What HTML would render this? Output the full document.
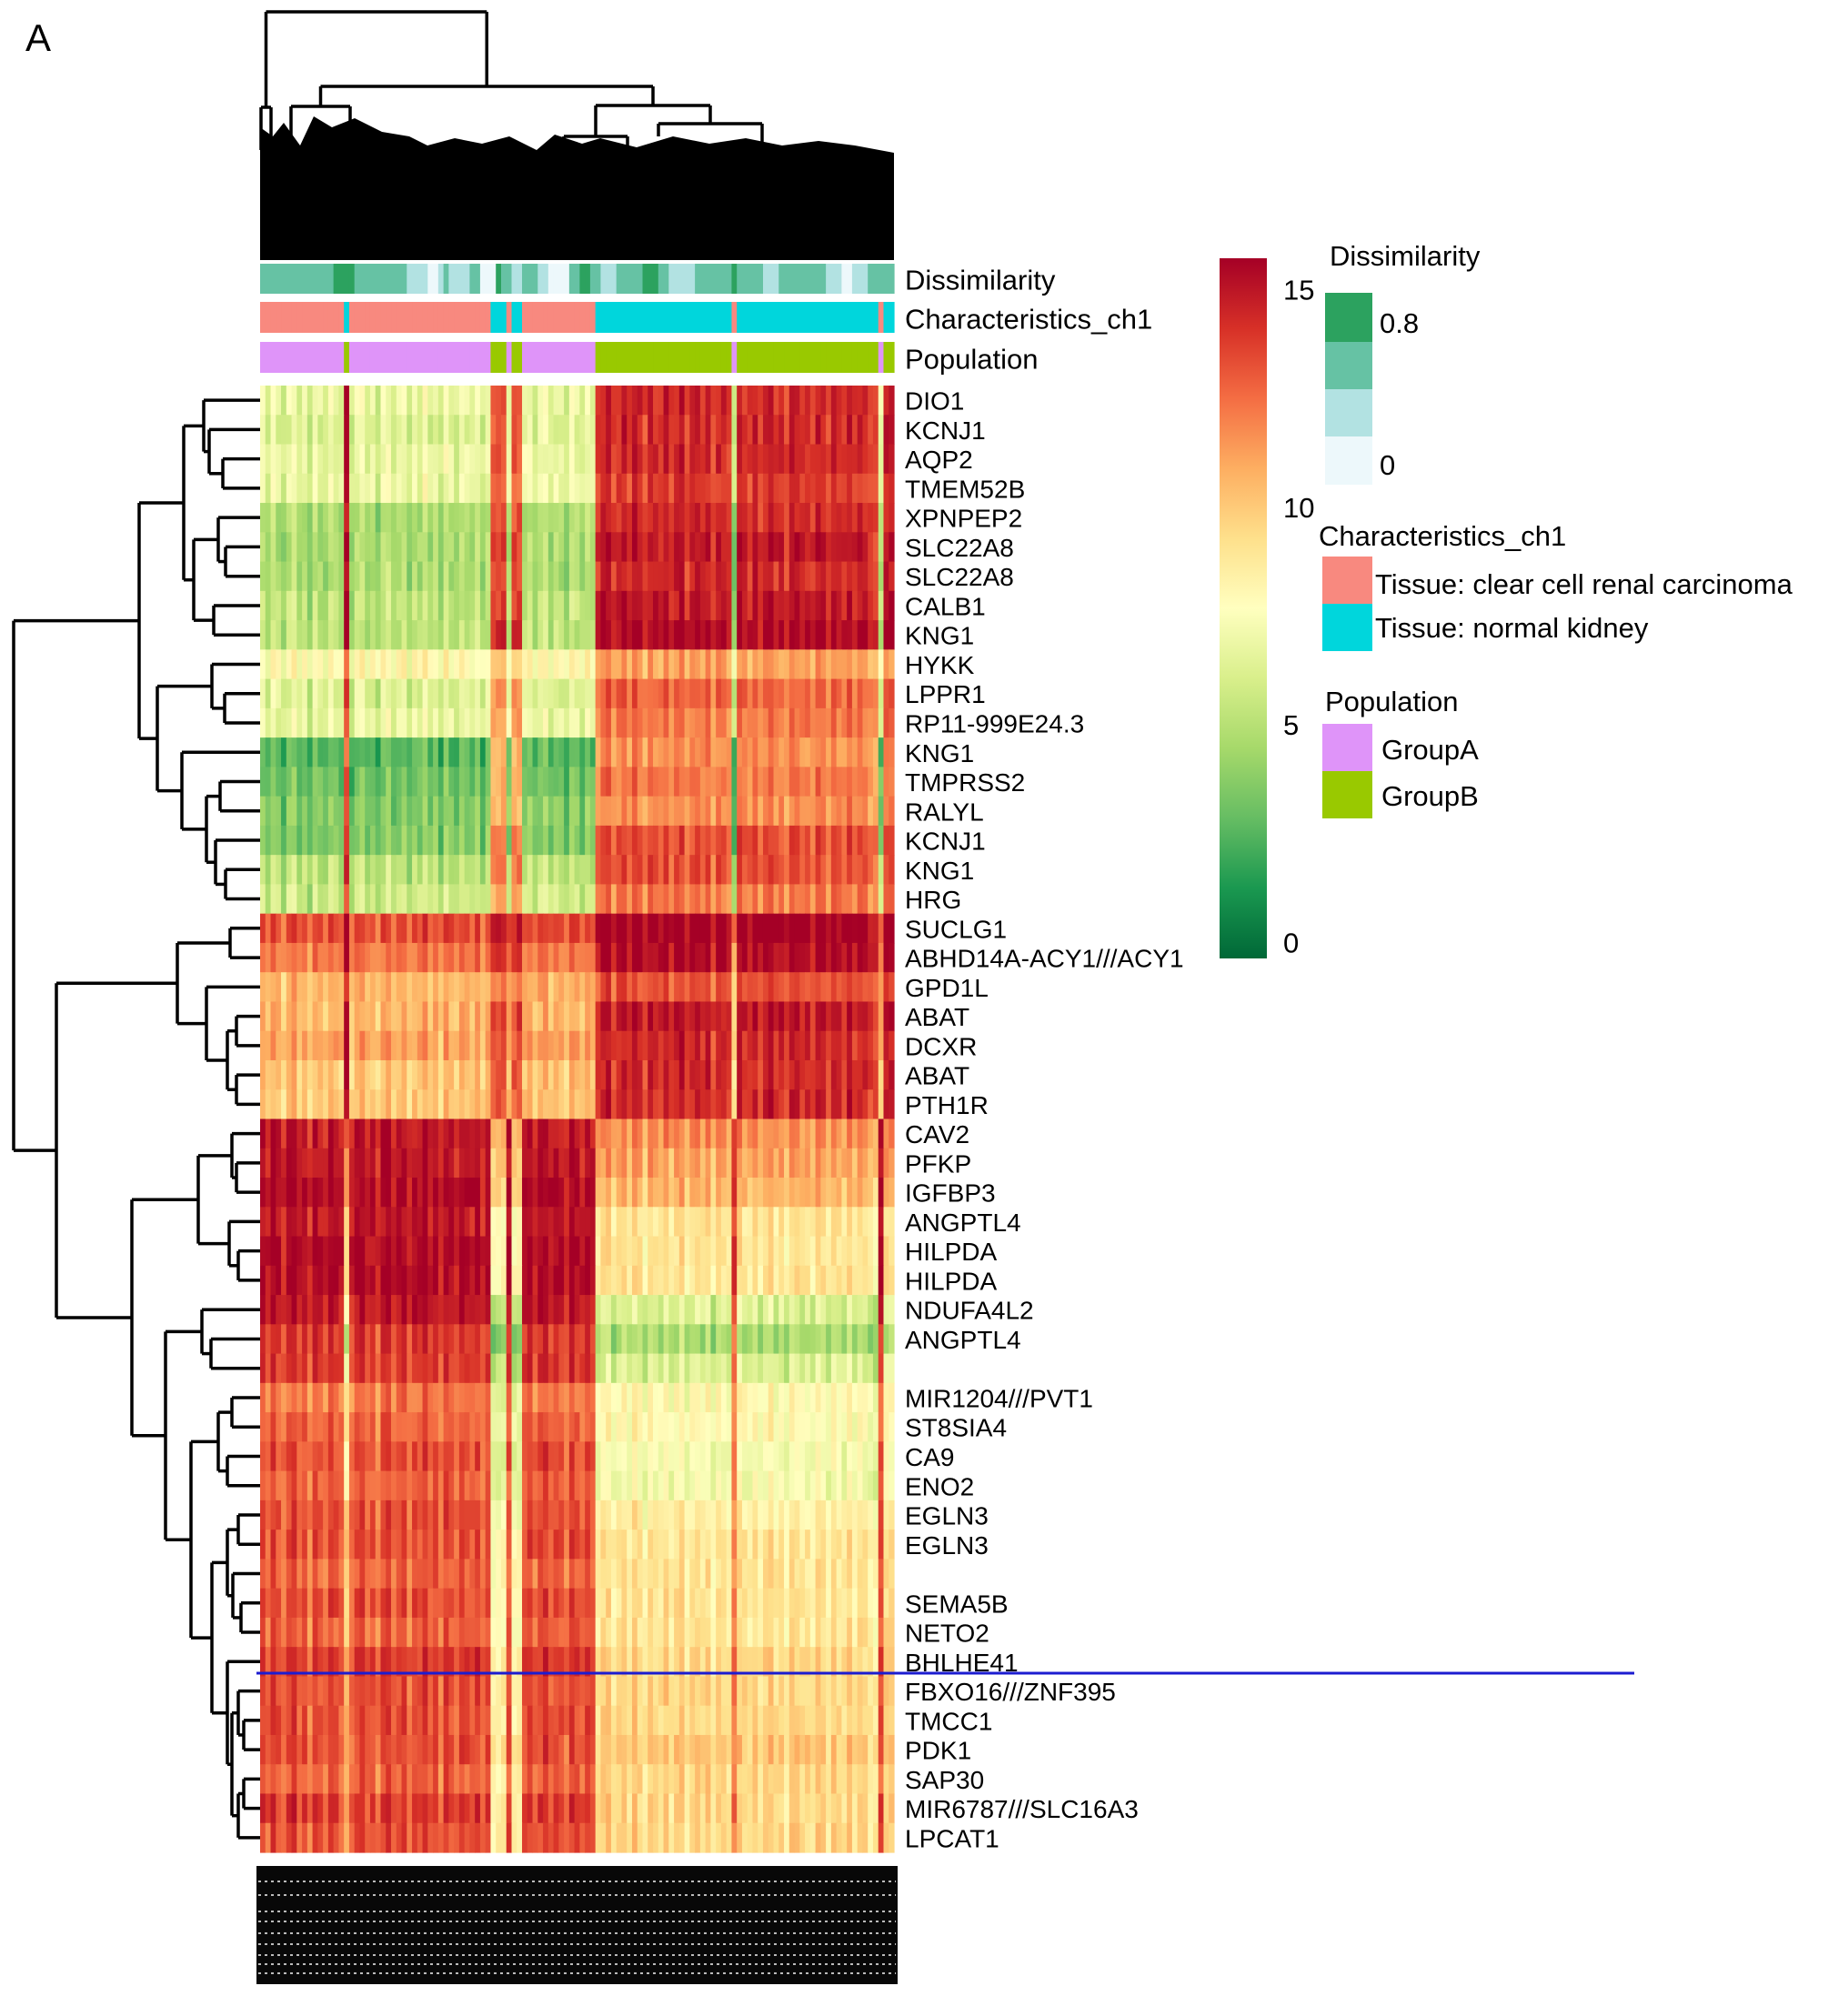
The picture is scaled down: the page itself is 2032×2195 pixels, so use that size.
<!DOCTYPE html>
<html><head><meta charset="utf-8"><style>
html,body{margin:0;padding:0;background:#fff;}
svg{display:block;font-family:"Liberation Sans",sans-serif;}
</style></head><body>
<svg id="chart" width="2032" height="2195" viewBox="0 0 2032 2195" xmlns="http://www.w3.org/2000/svg">
<defs>
<linearGradient id="cbar" x1="0" y1="1" x2="0" y2="0">
<stop offset="0" stop-color="#006837"/><stop offset="0.1" stop-color="#1a9850"/><stop offset="0.2" stop-color="#66bd63"/><stop offset="0.3" stop-color="#a6d96a"/><stop offset="0.4" stop-color="#d9ef8b"/><stop offset="0.5" stop-color="#ffffbf"/><stop offset="0.6" stop-color="#fee08b"/><stop offset="0.7" stop-color="#fdae61"/><stop offset="0.8" stop-color="#f46d43"/><stop offset="0.9" stop-color="#d73027"/><stop offset="1" stop-color="#a50026"/>
</linearGradient>
</defs>
<text x="28" y="56" font-size="42">A</text>
<g id="topDendro"></g>
<g id="annot"></g>
<g id="heat"></g>
<g id="rowDendro"></g>
<g id="labels"></g>
<g id="colLabels"></g>
<line x1="282" y1="1840" x2="1797" y2="1840" stroke="#1c1cd0" stroke-width="3"/>
<g id="legend">
<rect x="1341" y="284" width="52" height="770" fill="url(#cbar)"/>
<g id="cbTicks"></g>
<text x="1462" y="292" font-size="31">Dissimilarity</text>
<rect x="1457" y="322" width="52" height="54" fill="#2ca25f"/>
<rect x="1457" y="376" width="52" height="52" fill="#66c2a4"/>
<rect x="1457" y="428" width="52" height="52" fill="#b2e2e2"/>
<rect x="1457" y="480" width="52" height="53" fill="#edf8fb"/>
<text x="1517" y="366" font-size="31">0.8</text>
<text x="1517" y="522" font-size="31">0</text>
<text x="1450" y="600" font-size="31">Characteristics_ch1</text>
<rect x="1454" y="612" width="55" height="52" fill="#f8897f"/>
<rect x="1454" y="664" width="55" height="52" fill="#00d6dc"/>
<text x="1512" y="653" font-size="31">Tissue: clear cell renal carcinoma</text>
<text x="1512" y="701" font-size="31">Tissue: normal kidney</text>
<text x="1457" y="782" font-size="31">Population</text>
<rect x="1454" y="796" width="55" height="52" fill="#df94f9"/>
<rect x="1454" y="848" width="55" height="52" fill="#99c900"/>
<text x="1519" y="835" font-size="31">GroupA</text>
<text x="1519" y="886" font-size="31">GroupB</text>
</g>
</svg>
<script>
const genes = ["DIO1","KCNJ1","AQP2","TMEM52B","XPNPEP2","SLC22A8","SLC22A8","CALB1","KNG1","HYKK","LPPR1","RP11-999E24.3","KNG1","TMPRSS2","RALYL","KCNJ1","KNG1","HRG","SUCLG1","ABHD14A-ACY1///ACY1","GPD1L","ABAT","DCXR","ABAT","PTH1R","CAV2","PFKP","IGFBP3","ANGPTL4","HILPDA","HILPDA","NDUFA4L2","ANGPTL4","","MIR1204///PVT1","ST8SIA4","CA9","ENO2","EGLN3","EGLN3","","SEMA5B","NETO2","BHLHE41","FBXO16///ZNF395","TMCC1","PDK1","SAP30","MIR6787///SLC16A3","LPCAT1"];
const tumorMean = [6.5,6,6.5,6.5,4.5,4.5,4.5,5,5,7.5,6,6.5,2.5,3,3.5,3.5,5,5.5,12.5,11.5,10,10,10.5,9.5,9.5,14,14,14.5,14,14.5,14.5,14,13,13,11.5,12,12.5,12,12.5,12.5,12,12.5,12,13,12.5,12.5,12.5,12,13,12.5];
const normalMean = [13.5,13.5,13.5,13,13.5,14,13.5,14,14.5,10.5,12,11.5,11,11.5,11,12.5,12.5,11.5,15,14.5,12.5,14,13.5,13.5,13.5,11,10.5,10,8.5,8.5,8.5,6,4.5,6,7.5,7.5,7,7,8,8.5,8.5,8.5,8.5,9,9,9,9.5,9,9,9];
const colGroup = "TTTTTTTTTTTTTTTTNTTTTTTTTTTTTTTTTTTTTTTTTTTTNNNTNNTTTTTTTTTTTTTTNNNNNNNNNNNNNNNNNNNNNNNNNNTNNNNNNNNNNNNNNNNNNNNNNNNNNNTNN";
const colShift = [0.6,-0.4,0.9,0.2,-0.8,0.5,1.1,-0.3,0.4,-1.0,0.7,0.1,-0.5,0.8,0.3,-0.2,1.2,-0.6,0.5,0.9,-0.3,0.2,-0.9,0.6,1.0,-0.4,0.3,0.7,-0.7,0.4,0.1,1.1,-0.2,0.6,-0.8,0.9,0.2,-0.5,0.7,0.3,-0.1,0.8,-0.6,0.5,-1.2,-1.0,-0.8,0.4,-1.1,-0.9,0.3,0.8,-0.4,0.6,1.0,-0.2,0.5,0.2,-0.7,0.9,0.4,-0.3,0.7,0.1,-0.3,0.5,0.9,-0.6,0.2,0.7,-0.4,1.0,0.3,-0.8,0.6,0.1,-0.2,0.8,-0.5,0.4,0.9,-0.7,0.3,0.6,-0.1,0.7,-0.9,0.5,0.2,-0.4,-1.0,0.8,0.1,-0.3,0.6,-0.6,0.4,0.9,-0.2,0.3,-0.8,0.7,0.5,-0.1,0.2,-0.5,0.8,0.4,-0.7,0.6,0.1,-0.3,0.9,-0.4,0.5,0.2,-0.6,-0.9,0.3,0.6];
const dissimLevel = "111111111111110000111111111122223321222211333011221112233331100112221111100011222221111111011111222111111111222332221111";
const cbTicks = [0,5,10,15];
const NC = colGroup.length, NR = genes.length;
const HX0 = 286, HX1 = 983, HY0 = 424, HY1 = 2037;
const cw = (HX1-HX0)/NC, rh = (HY1-HY0)/NR;
const xCol = c => HX0 + c*cw;
const yRow = r => HY0 + r*rh;
const NS = "http://www.w3.org/2000/svg";
function mk(tag, attrs, parent){const e=document.createElementNS(NS,tag);for(const k in attrs)e.setAttribute(k,attrs[k]);parent.appendChild(e);return e;}
const stops = ["#006837","#1a9850","#66bd63","#a6d96a","#d9ef8b","#ffffbf","#fee08b","#fdae61","#f46d43","#d73027","#a50026"].map(h=>[parseInt(h.slice(1,3),16),parseInt(h.slice(3,5),16),parseInt(h.slice(5,7),16)]);
function color(v){ if(!isFinite(v)) v=7.5; let t=Math.max(0,Math.min(1,v/15))*10;const i=Math.max(0,Math.min(9,Math.floor(t))),f=t-i;const a=stops[i],b=stops[i+1];return `rgb(${Math.round(a[0]+(b[0]-a[0])*f)},${Math.round(a[1]+(b[1]-a[1])*f)},${Math.round(a[2]+(b[2]-a[2])*f)})`;}
const shiftAt = i => colShift[i % colShift.length] || 0;
// heatmap
const heat = document.getElementById('heat');
for(let r=0;r<NR;r++){for(let c=0;c<NC;c++){
  const base = colGroup[c]==='T'?tumorMean[r]:normalMean[r];
  const v = base + shiftAt(c)*0.9 + shiftAt(c*7+r*13)*0.6;
  const e = mk('rect',{x:xCol(c).toFixed(2),y:yRow(r).toFixed(2),width:(cw+0.6).toFixed(2),height:(rh+0.6).toFixed(2),fill:color(v)},heat);
  
  
}}
// annotations
const annot = document.getElementById('annot');
const dcol = ["#2ca25f","#66c2a4","#b2e2e2","#edf8fb"];
for(let c=0;c<NC;c++){
  const d = mk('rect',{x:xCol(c).toFixed(2),y:290,width:(cw+0.6).toFixed(2),height:33,fill:dcol[+(dissimLevel[c]||1)]||dcol[1]},annot);
  
  
  const ch = mk('rect',{x:xCol(c).toFixed(2),y:332,width:(cw+0.6).toFixed(2),height:34,fill:colGroup[c]==='T'?"#f8897f":"#00d6dc"},annot);
  
  
  const p = mk('rect',{x:xCol(c).toFixed(2),y:376,width:(cw+0.6).toFixed(2),height:34,fill:colGroup[c]==='T'?"#df94f9":"#99c900"},annot);
  
  
}
[["Dissimilarity",308,'annotation-label-dissimilarity'],["Characteristics_ch1",351,'annotation-label-characteristics'],["Population",395,'annotation-label-population']].forEach(a=>{
  const t=mk('text',{x:995,y:a[1],'font-size':31,'dominant-baseline':'central'},annot);t.textContent=a[0];
  
  
});
// row labels
const lab = document.getElementById('labels');
genes.forEach((g,r)=>{ if(!g) return;
  const t=mk('text',{x:995,y:(yRow(r)+rh/2+1).toFixed(1),'font-size':28,'dominant-baseline':'central'},lab);t.textContent=g;
  
  
});
// colorbar ticks
const cbt=document.getElementById('cbTicks');
cbTicks.forEach(v=>{const y=1037-v*47.87;const t=mk('text',{x:1411,y:y.toFixed(1),'font-size':31,'dominant-baseline':'central'},cbt);t.textContent=v;
  
  });
// row dendrogram: [merge x-position(px), child, child]
const tree = [15,
 [153,
  [202,[224,0,[230,1,[245,2,3]]],[213,[240,4,[248,5,6]],[235,7,8]]],
  [173,[233,9,[247,10,11]],[200,12,[227,[242,13,14],[237,15,[248,16,17]]]]]],
 [62,
  [195,[253,18,19],[227,20,[250,[260,21,22],[260,23,24]]]],
  [145,
   [218,[255,25,[260,26,27]],[252,28,[262,29,30]]],
   [182,[222,31,[232,32,33]],
    [210,[240,[255,34,35],[250,36,37]],
     [233,[250,[262,38,39],[256,40,[265,41,42]]],[250,43,[255,[262,44,[268,45,46]],[262,[268,47,48],49]]]]]]]]];
const rd=document.getElementById('rowDendro');
function seg(x1,y1,x2,y2,g){const l=mk('line',{x1,y1,x2,y2,stroke:'#000','stroke-width':3.5},g);}
function drawRow(n){ if(typeof n==='number') return {x:HX0,y:yRow(n)+rh/2};
  const a=drawRow(n[1]),b=drawRow(n[2]);const x=n[0];
  seg(x,a.y,a.x,a.y,rd);seg(x,b.y,b.x,b.y,rd);seg(x,a.y,x,b.y,rd);return {x,y:(a.y+b.y)/2};}
drawRow(tree);
// column dendrogram top branches (heights as y px)
const td=document.getElementById('topDendro');
const colTree=[13,[118,0,1],[95,[117,2,3],[116,[150,4,5],[136,6,7]]]];
const colLeafX=[287,298,320,385,620,690,724,838];
const colLeafY=[165,160,150,160,165,160,150,160];
function drawCol(n){ if(typeof n==='number') return {x:colLeafX[n],y:colLeafY[n]};
  const a=drawCol(n[1]),b=drawCol(n[2]);const y=n[0];
  seg(a.x,y,a.x,a.y,td);seg(b.x,y,b.x,b.y,td);seg(a.x,y,b.x,y,td);return {x:(a.x+b.x)/2,y};}
drawCol(colTree);
const massTop=[[286,140],[300,150],[312,135],[330,160],[345,128],[365,140],[390,130],[420,145],[450,150],[470,160],[500,152],[530,158],[560,150],[590,165],[610,148],[640,158],[660,152],[700,162],[740,150],[780,158],[820,152],[860,160],[900,155],[940,160],[983,168]];
const mass=mk('polygon',{points:massTop.map(p=>p.join(',')).join(' ')+' 983,286 286,286',fill:'#000'},td);


// bottom column labels (illegible dense sample names)
const cl=document.getElementById('colLabels');
const bl=mk('rect',{x:282,y:2052,width:705,height:130,fill:'#080808'},cl);


[2069,2084,2102,2113,2126,2138,2150,2160,2170].forEach(y=>{const s=mk('line',{x1:284,y1:y,x2:985,y2:y,stroke:'#bbb','stroke-width':2,'stroke-dasharray':'3 4'},cl);
  
  });
</script>
</body></html>
